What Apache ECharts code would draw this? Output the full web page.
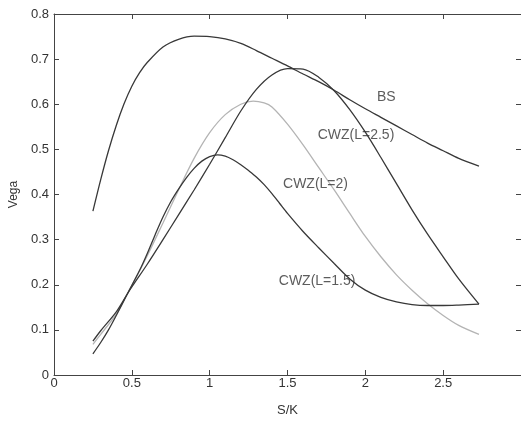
<!DOCTYPE html>
<html>
<head>
<meta charset="utf-8">
<script src="https://cdn.jsdelivr.net/npm/echarts@6/dist/echarts.min.js"></script>
<style>
  html, body { margin: 0; padding: 0; background: #fff; }
  #chart { width: 521px; height: 422px; }
</style>
</head>
<body>
<div id="chart"></div>
<script>
// Vega against moneyness S/K: Black-Scholes vs CWZ for three barrier levels L
const bsX = [0.25, 0.3, 0.35, 0.4, 0.45, 0.5, 0.55, 0.6, 0.7, 0.8, 0.9, 1.0, 1.1, 1.2, 1.3, 1.4, 1.5, 1.6, 1.7, 1.8, 1.9, 2.0, 2.1, 2.2, 2.3, 2.4, 2.5, 2.6, 2.73];
const bsY = [0.363, 0.433, 0.497, 0.553, 0.601, 0.640, 0.670, 0.693, 0.727, 0.744, 0.751, 0.750, 0.745, 0.735, 0.719, 0.702, 0.685, 0.667, 0.650, 0.631, 0.610, 0.590, 0.571, 0.552, 0.533, 0.514, 0.497, 0.480, 0.463];

const l15X = [0.25, 0.3, 0.35, 0.4, 0.47, 0.55, 0.6, 0.65, 0.7, 0.75, 0.8, 0.85, 0.9, 0.95, 1.0, 1.05, 1.1, 1.15, 1.2, 1.25, 1.3, 1.35, 1.4, 1.45, 1.5, 1.6, 1.7, 1.8, 1.9, 2.0, 2.1, 2.2, 2.3, 2.4, 2.5, 2.6, 2.73];
const l15Y = [0.047, 0.072, 0.100, 0.132, 0.179, 0.232, 0.270, 0.311, 0.350, 0.384, 0.412, 0.437, 0.458, 0.474, 0.484, 0.488, 0.485, 0.477, 0.466, 0.453, 0.439, 0.422, 0.402, 0.380, 0.358, 0.318, 0.282, 0.247, 0.213, 0.188, 0.172, 0.162, 0.156, 0.154, 0.154, 0.155, 0.157];

const l2X = [0.25, 0.3, 0.4, 0.47, 0.5, 0.6, 0.7, 0.8, 0.9, 1.0, 1.1, 1.2, 1.28, 1.35, 1.4, 1.5, 1.6, 1.7, 1.8, 1.9, 2.0, 2.1, 2.2, 2.3, 2.4, 2.5, 2.6, 2.73];
const l2Y = [0.068, 0.090, 0.135, 0.179, 0.198, 0.265, 0.337, 0.410, 0.480, 0.537, 0.577, 0.600, 0.607, 0.603, 0.594, 0.556, 0.510, 0.460, 0.410, 0.358, 0.307, 0.262, 0.222, 0.188, 0.158, 0.132, 0.110, 0.090];

const l25X = [0.25, 0.3, 0.4, 0.47, 0.5, 0.6, 0.7, 0.8, 0.9, 1.0, 1.1, 1.2, 1.3, 1.4, 1.5, 1.6, 1.7, 1.8, 1.9, 2.0, 2.1, 2.2, 2.3, 2.4, 2.5, 2.6, 2.73];
const l25Y = [0.075, 0.098, 0.140, 0.179, 0.195, 0.246, 0.300, 0.355, 0.410, 0.467, 0.526, 0.585, 0.633, 0.665, 0.679, 0.678, 0.660, 0.630, 0.588, 0.538, 0.482, 0.424, 0.366, 0.312, 0.262, 0.213, 0.157];

// curve annotations: text and anchor in data space
const noteText = ['BS', 'CWZ(L=2.5)', 'CWZ(L=2)', 'CWZ(L=1.5)'];
const noteX = [2.135, 1.94, 1.68, 1.69];
const noteY = [0.616, 0.531, 0.424, 0.207];

const xTicks = [0, 0.5, 1, 1.5, 2, 2.5, 3];
const yTicks = [0, 0.1, 0.2, 0.3, 0.4, 0.5, 0.6, 0.7, 0.8];

const pairs = (xs, ys) => xs.map((x, i) => [x, ys[i]]);

const dark = '#383838';
const light = '#b4b4b4';
const axisColor = '#444';
const font = 'Liberation Sans, Arial, sans-serif';

function curve(name, xs, ys, color) {
  return {
    name, type: 'line', data: pairs(xs, ys),
    smooth: 0.3, showSymbol: false, symbol: 'none',
    lineStyle: { color, width: 1.3 },
    z: color === light ? 2 : 3
  };
}

const chart = echarts.init(document.getElementById('chart'), null, { renderer: 'canvas' });

const tickLabelStyle = { color: '#333', fontFamily: font, fontSize: 13 };
const frameLine = { show: true, onZero: false, lineStyle: { color: axisColor, width: 1 } };
const frameTick = { show: true, inside: true, length: 5, lineStyle: { color: axisColor } };

chart.setOption({
  animation: false,
  backgroundColor: '#fff',
  grid: { left: 54, top: 14, right: -3, bottom: 41, containLabel: false },
  xAxis: [
    {
      type: 'value', min: xTicks[0], max: xTicks[xTicks.length - 1], interval: 0.5,
      name: 'S/K', nameLocation: 'middle', nameGap: 29,
      nameTextStyle: { color: '#333', fontFamily: font, fontSize: 13 },
      axisLine: frameLine, axisTick: frameTick,
      axisLabel: Object.assign({ margin: 2, showMaxLabel: false,
        formatter: v => String(v) }, tickLabelStyle),
      splitLine: { show: false }
    },
    {
      type: 'value', position: 'top', min: xTicks[0], max: xTicks[xTicks.length - 1], interval: 0.5,
      axisLine: frameLine, axisTick: frameTick,
      axisLabel: { show: false }, splitLine: { show: false }
    }
  ],
  yAxis: [
    {
      type: 'value', min: yTicks[0], max: yTicks[yTicks.length - 1], interval: 0.1,
      name: 'Vega', nameLocation: 'middle', nameGap: 33, nameRotate: 90,
      nameTextStyle: { color: '#333', fontFamily: font, fontSize: 12 },
      axisLine: frameLine, axisTick: frameTick,
      axisLabel: Object.assign({ margin: 5, formatter: v => String(+v.toFixed(1)) }, tickLabelStyle),
      splitLine: { show: false }
    },
    {
      type: 'value', position: 'right', min: yTicks[0], max: yTicks[yTicks.length - 1], interval: 0.1,
      axisLine: frameLine, axisTick: frameTick,
      axisLabel: { show: false }, splitLine: { show: false }
    }
  ],
  series: [
    curve('BS', bsX, bsY, dark),
    curve('CWZ(L=2)', l2X, l2Y, light),
    curve('CWZ(L=1.5)', l15X, l15Y, dark),
    curve('CWZ(L=2.5)', l25X, l25Y, dark),
    {
      name: 'notes', type: 'scatter', symbolSize: 0, silent: true, z: 5,
      data: noteText.map((t, i) => ({ value: [noteX[i], noteY[i]], name: t })),
      label: {
        show: true, position: 'inside', formatter: p => p.name,
        color: '#333', fontFamily: font, fontSize: 14
      }
    }
  ]
});
</script>
</body>
</html>
